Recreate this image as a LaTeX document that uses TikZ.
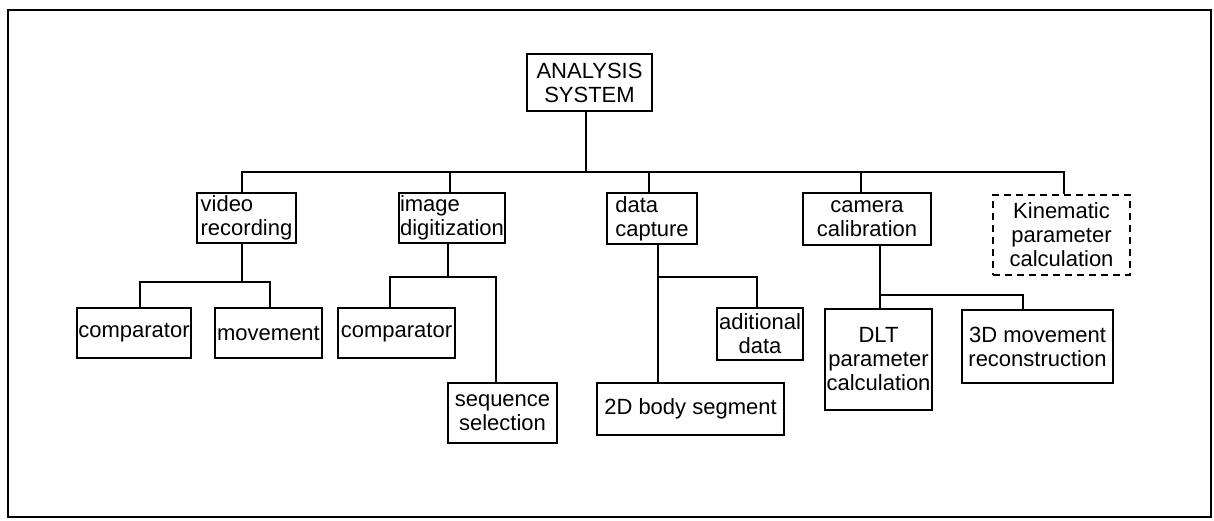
\documentclass[tikz,border=0pt]{standalone}
\usepackage{fontspec}
\setmainfont{Liberation Sans}
\begin{document}
\begin{tikzpicture}[x=1pt,y=-1pt,
  every node/.style={font=\fontsize{22}{24}\selectfont},
  blk/.style={draw,line width=1.8pt,rectangle,inner sep=1pt,align=center},
  dblk/.style={blk,dashed,dash pattern=on 7pt off 5pt},
  wire/.style={line width=1.8pt}]
\useasboundingbox (0,0) rectangle (1214,521);
\draw[line width=2pt] (8,10) rectangle (1211,517);
% root
\node[blk,minimum width=125pt,minimum height=57pt] (root) at (589.5,82.5) {ANALYSIS\\SYSTEM};
% level 1
\node[blk,minimum width=99pt,minimum height=50pt,align=left] (vid) at (246.5,218) {video\\recording};
\node[blk,minimum width=106pt,minimum height=50pt,align=left] (img) at (452,218) {image\\digitization};
\node[blk,minimum width=90pt,minimum height=51pt,align=left] (dat) at (652,218.5) {data\\capture};
\node[blk,minimum width=128pt,minimum height=52pt] (cam) at (867,219) {camera\\calibration};
\node[dblk,minimum width=137pt,minimum height=80pt] (kin) at (1061.5,235) {Kinematic\\parameter\\calculation};
% level 2
\node[blk,minimum width=112pt,minimum height=50pt] (cmpa) at (134,333) {comparator};
\node[blk,minimum width=107pt,minimum height=50pt] (mov) at (268.5,333) {movement};
\node[blk,minimum width=117pt,minimum height=50pt] (cmpb) at (396.5,333) {comparator};
\node[blk,minimum width=109pt,minimum height=60pt] (seq) at (502.5,413) {sequence\\selection};
\node[blk,minimum width=86pt,minimum height=52pt] (add) at (760,334) {aditional\\data};
\node[blk,minimum width=187pt,minimum height=52pt] (body) at (690.5,409) {2D body segment};
\node[blk,minimum width=107pt,minimum height=101pt] (dlt) at (878.5,359.5) {DLT\\parameter\\calculation};
\node[blk,minimum width=151pt,minimum height=73pt] (rec) at (1037.5,346.5) {3D movement\\reconstruction};
% bus coordinates
\coordinate (rb) at (586,172);
\coordinate (vb) at (242,282);
\coordinate (ib) at (448,277);
\coordinate (db) at (658,277);
\coordinate (cb) at (880,295);
% root bus
\draw[wire] (root.south -| rb) -- (rb);
\draw[wire] (vid.north -| 242,0) -- (242,172) -- (1064,172) -- (kin.north -| 1064,0);
\draw[wire] (450,172) -- (img.north -| 450,0);
\draw[wire] (649,172) -- (dat.north -| 649,0);
\draw[wire] (861,172) -- (cam.north -| 861,0);
% video
\draw[wire] (vid.south -| vb) -- (vb);
\draw[wire] (cmpa.north -| 140,0) -- (140,282) -- (270,282) -- (mov.north -| 270,0);
% image
\draw[wire] (img.south -| ib) -- (ib);
\draw[wire] (cmpb.north -| 390,0) -- (390,277) -- (496,277) -- (seq.north -| 496,0);
% data
\draw[wire] (dat.south -| db) -- (body.north -| db);
\draw[wire] (db) -- (757,277) -- (add.north -| 757,0);
% camera
\draw[wire] (cam.south -| cb) -- (dlt.north -| cb);
\draw[wire] (cb) -- (1023,295) -- (rec.north -| 1023,0);
\end{tikzpicture}
\end{document}
